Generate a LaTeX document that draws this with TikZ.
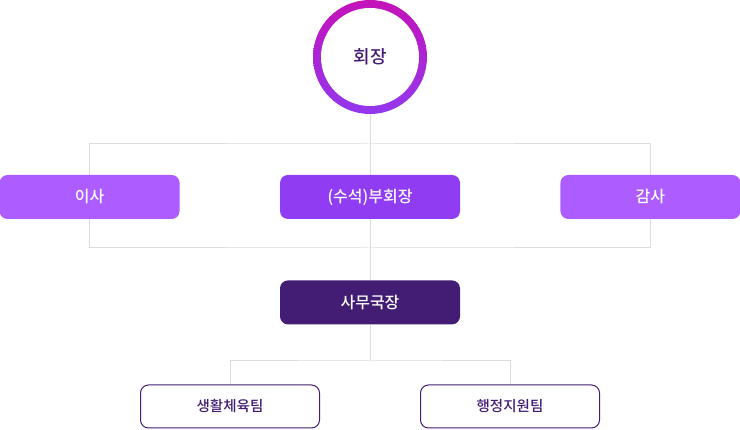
\documentclass[tikz,border=0pt]{standalone}
\usepackage{fontspec}
\setmainfont{Noto Sans CJK KR Medium}
\usetikzlibrary{positioning,backgrounds}
\definecolor{ringtop}{HTML}{C412B9}
\definecolor{ringmid}{HTML}{B05CF8}
\definecolor{ringbot}{HTML}{9338EE}
\definecolor{lightpurple}{HTML}{AD5CFF}
\definecolor{midpurple}{HTML}{8F3CF2}
\definecolor{darkpurple}{HTML}{431D74}
\definecolor{linegray}{HTML}{DCDCDC}

\begin{document}
\begin{tikzpicture}[x=1pt, y=-1pt, font=\fontsize{16}{19}\selectfont]
      \tikzstyle{box}=[rectangle, rounded corners=8pt, minimum width=180pt, minimum height=44pt, inner sep=0pt, text=white]
      \tikzstyle{team}=[box, draw=darkpurple, line width=1pt, fill=white, text=darkpurple, minimum width=179pt, minimum height=43pt, font=\fontsize{14.5}{17}\selectfont]
      \tikzstyle{line}=[draw=linegray, line width=1pt]
      \useasboundingbox (0,0) rectangle (740,430);
      \node[circle, minimum size=114pt, top color=ringtop, middle color=ringmid, bottom color=ringbot] (ring) at (370,57) {};
      \node[circle, minimum size=98pt, fill=white, text=darkpurple, font=\fontsize{18}{21}\selectfont] (chair) at (ring) {회장};
      \node[box, fill=midpurple] (vice) at (370,197) {(수석)부회장};
      \node[box, fill=lightpurple] (board) [left=100pt of vice] {이사};
      \node[box, fill=lightpurple] (audit) [right=100pt of vice] {감사};
      \node[box, fill=darkpurple] (secgen) [below=61pt of vice] {사무국장};
      \node[team] (sports) at (230,406.5) {생활체육팀};
      \node[team] (admin) at (510,406.5) {행정지원팀};
      \coordinate (top) at (370,144);
      \coordinate (bot) at (370,248);
      \coordinate (split) at (370,361);
      \begin{scope}[on background layer]
        \path[line] (ring.south) -- (secgen.north);
        \path[line] (board) |- (top) -| (audit) |- (bot) -| (board);
        \path[line] (secgen.south) -- (split);
        \path[line] (sports.north) |- (split) -| (admin.north);
      \end{scope}
    \end{tikzpicture}
\end{document}
